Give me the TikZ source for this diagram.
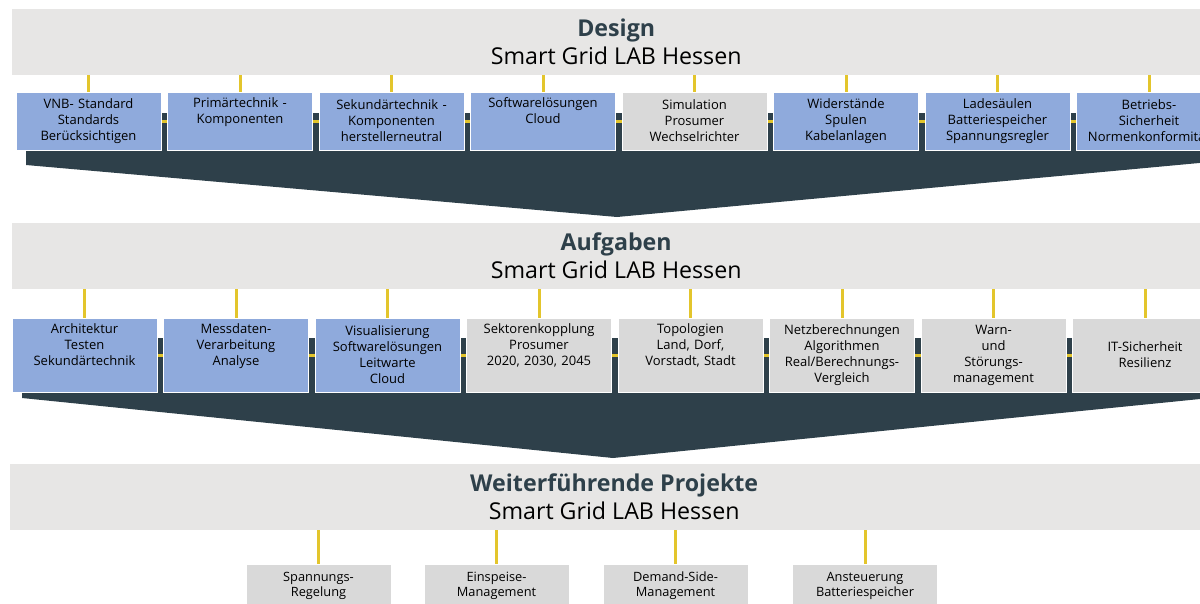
\documentclass[tikz,border=0pt]{standalone}
\usepackage{fontspec}
\setmainfont{Open Sans}
\usepackage{tikz}
\usetikzlibrary{positioning, backgrounds}
\definecolor{bannergray}{HTML}{E7E6E5}
\definecolor{boxblue}{HTML}{8FAADC}
\definecolor{boxgray}{HTML}{D9D9D9}
\definecolor{darkslate}{HTML}{2E404A}
\definecolor{tickyellow}{HTML}{E3C52C}

\begin{document}
\begin{tikzpicture}[x=1pt, y=-1pt, node distance=151.5pt,
  banner/.style = {fill=bannergray, minimum width=1208pt, minimum height=66pt, anchor=west, align=center, inner sep=0pt, font=\fontsize{23.2}{28}\selectfont},
  item/.style = {draw=white, line width=0.8pt, minimum width=145pt, text width=143pt, align=center, inner sep=0pt, font=\fontsize{13}{16}\selectfont},
  topblue/.style = {item, fill=boxblue, minimum height=58pt},
  topgray/.style = {item, fill=boxgray, minimum height=58pt},
  midblue/.style = {item, fill=boxblue, minimum height=74pt},
  midgray/.style = {item, fill=boxgray, minimum height=74pt},
  endgray/.style = {item, fill=boxgray, minimum height=44pt, font=\fontsize{12.8}{15}\selectfont},
  tick/.style = {draw=tickyellow, line width=3pt}]
\useasboundingbox (0,0) rectangle (1200,603);

\node[banner] (design) at (12,42) {\textbf{\color{darkslate}Design}\\Smart Grid LAB Hessen};
\node[banner] (aufgaben) at (12,256) {\textbf{\color{darkslate}Aufgaben}\\Smart Grid LAB Hessen};
\node[banner] (projekte) at (10,497) {\textbf{\color{darkslate}Weiterführende Projekte}\\Smart Grid LAB Hessen};

\node[topblue] (d1) at (88.5,121) {VNB- Standard\\Standards\\Berücksichtigen};
\node[topblue] (d2) [right of=d1] {Primärtechnik -\\Komponenten\\\strut};
\node[topblue] (d3) [right of=d2] {Sekundärtechnik -\\Komponenten\\herstellerneutral};
\node[topblue] (d4) [right of=d3] {Softwarelösungen\\Cloud\\\strut};
\node[topgray] (d5) [right of=d4] {Simulation\\Prosumer\\Wechselrichter};
\node[topblue] (d6) [right of=d5] {Widerstände\\Spulen\\Kabelanlagen};
\node[topblue] (d7) [right of=d6] {Ladesäulen\\Batteriespeicher\\Spannungsregler};
\node[topblue] (d8) [right of=d7] {Betriebs-\\Sicherheit\\Normenkonformität};

\node[midblue] (a1) at (84.5,355) {Architektur\\Testen\\Sekundärtechnik\\\strut};
\node[midblue] (a2) [right of=a1] {Messdaten-\\Verarbeitung\\Analyse\\\strut};
\node[midblue] (a3) [right of=a2] {Visualisierung\\Softwarelösungen\\Leitwarte\\Cloud};
\node[midgray] (a4) [right of=a3] {Sektorenkopplung\\Prosumer\\2020, 2030, 2045\\\strut};
\node[midgray] (a5) [right of=a4] {Topologien\\Land, Dorf,\\Vorstadt, Stadt\\\strut};
\node[midgray] (a6) [right of=a5] {Netzberechnungen\\Algorithmen\\Real/Berechnungs-\\Vergleich};
\node[midgray] (a7) [right of=a6] {Warn-\\und\\Störungs-\\management};
\node[midgray] (a8) [right of=a7] {IT-Sicherheit\\Resilienz};

\node[endgray] (w1) at (318.5,586) {Spannungs-\\Regelung};
\node[endgray] (w2) at (496.5,586) {Einspeise-\\Management};
\node[endgray] (w3) at (675.5,586) {Demand-Side-\\Management};
\node[endgray] (w4) at (865,586) {Ansteuerung\\Batteriespeicher};

\foreach \i in {1,...,8} {
  \draw[tick] (design.south -| d\i.north) -- (d\i.north);
  \draw[tick] (aufgaben.south -| a\i.north) -- (a\i.north);
}
\foreach \i in {1,...,4}
  \draw[tick] (projekte.south -| w\i.north) -- (w\i.north);

\begin{scope}[on background layer]
\fill[darkslate] (26,113) -- (1210,113) -- (1210,162) -- (617,217) -- (26,165) -- cycle;
\draw[tick] (d1) -- (d8);
\fill[darkslate] (22,338) -- (1210,338) -- (1210,398) -- (613,458) -- (22,398) -- cycle;
\draw[tick] (a1) -- (a8);
\end{scope}
\end{tikzpicture}
\end{document}
